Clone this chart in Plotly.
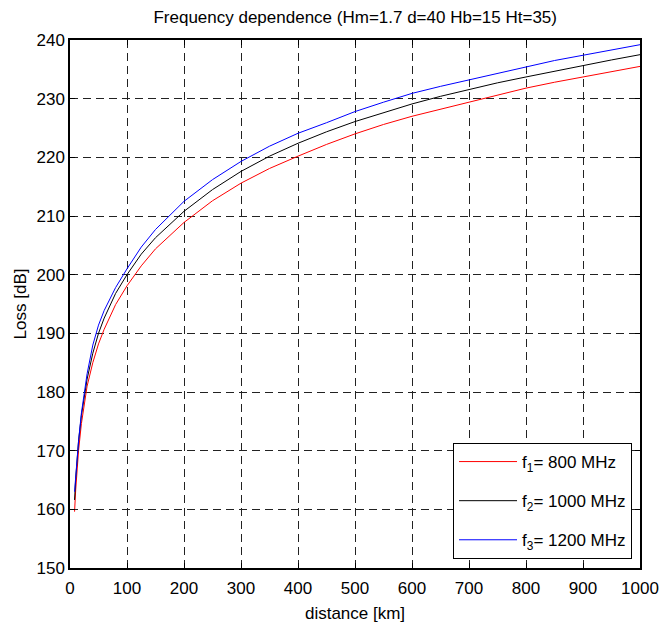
import plotly.graph_objects as go

distance_km = [8, 10, 15, 20, 30, 40, 50, 60, 80, 100, 125, 150, 200, 250, 300, 350, 400,
               450, 500, 550, 600, 650, 700, 750, 800, 850, 900, 950, 1000]

loss_800 = [159.6, 163.3, 170.0, 174.6, 181.0, 185.0, 188.2, 190.7, 194.9, 198.1, 201.5, 204.4,
            208.9, 212.6, 215.6, 218.1, 220.2, 222.2, 224.0, 225.6, 227.0, 228.2, 229.4, 230.6,
            231.8, 232.8, 233.7, 234.6, 235.5]
loss_1000 = [161.6, 165.2, 171.6, 176.0, 182.2, 186.6, 190.0, 192.6, 196.8, 200.0, 203.5, 206.3,
             210.8, 214.5, 217.6, 220.2, 222.4, 224.35, 226.1, 227.65, 229.1, 230.4, 231.6, 232.7,
             233.7, 234.7, 235.7, 236.6, 237.5]
loss_1200 = [163.0, 166.0, 171.7, 176.4, 183.1, 188.0, 191.4, 193.9, 197.8, 201.0, 204.7, 207.7,
             212.5, 216.2, 219.3, 221.9, 224.1, 225.9, 227.8, 229.4, 230.9, 232.1, 233.2, 234.4,
             235.5, 236.5, 237.4, 238.3, 239.2]

series_names = ["f<sub>1</sub>= 800 MHz", "f<sub>2</sub>= 1000 MHz", "f<sub>3</sub>= 1200 MHz"]
series_colors = ["#ff0000", "#000000", "#0000ff"]
series_values = [loss_800, loss_1000, loss_1200]

title_text = "Frequency dependence (Hm=1.7 d=40 Hb=15 Ht=35)"
x_title = "distance [km]"
y_title = "Loss [dB]"

FONT = "Liberation Sans, Arial, sans-serif"
FS = 17

fig = go.Figure()
for i, (name, color, vals) in enumerate(zip(series_names, series_colors, series_values)):
    fig.add_trace(go.Scatter(x=distance_km, y=vals, mode="lines", name=name,
                             legendgroup=f"g{i}",
                             line=dict(color=color, width=1)))

axis_common = dict(
    showline=True, linecolor="black", linewidth=1.5, mirror="ticks",
    ticks="inside", ticklen=5, tickcolor="black", tickwidth=1,
    showgrid=True, gridcolor="#222222", gridwidth=1, griddash="8px,5px",
    zeroline=False, automargin=False,
    tickfont=dict(family=FONT, size=FS, color="black"),
)

fig.update_layout(
    width=659, height=626,
    margin=dict(l=70, r=19, t=40, b=58),
    paper_bgcolor="white", plot_bgcolor="white",
    font=dict(family=FONT, size=FS, color="black"),
    title=dict(text=title_text, x=0.539, xanchor="center", y=0.973, yanchor="middle",
               font=dict(family=FONT, size=FS, color="black")),
    xaxis=dict(range=[0, 1000], dtick=100, tick0=0, ticklabelstandoff=4,
               title=dict(text=x_title, standoff=10, font=dict(family=FONT, size=FS)),
               **axis_common),
    yaxis=dict(range=[150, 240], dtick=10, tick0=150,
               title=dict(text=y_title, standoff=6, font=dict(family=FONT, size=FS)),
               **axis_common),
    legend=dict(x=0.986, y=0.017, xanchor="right", yanchor="bottom",
                bgcolor="white", bordercolor="black", borderwidth=1,
                font=dict(family=FONT, size=FS, color="black"),
                tracegroupgap=14, itemwidth=58),
    showlegend=True,
)

fig.write_html("out.html")
